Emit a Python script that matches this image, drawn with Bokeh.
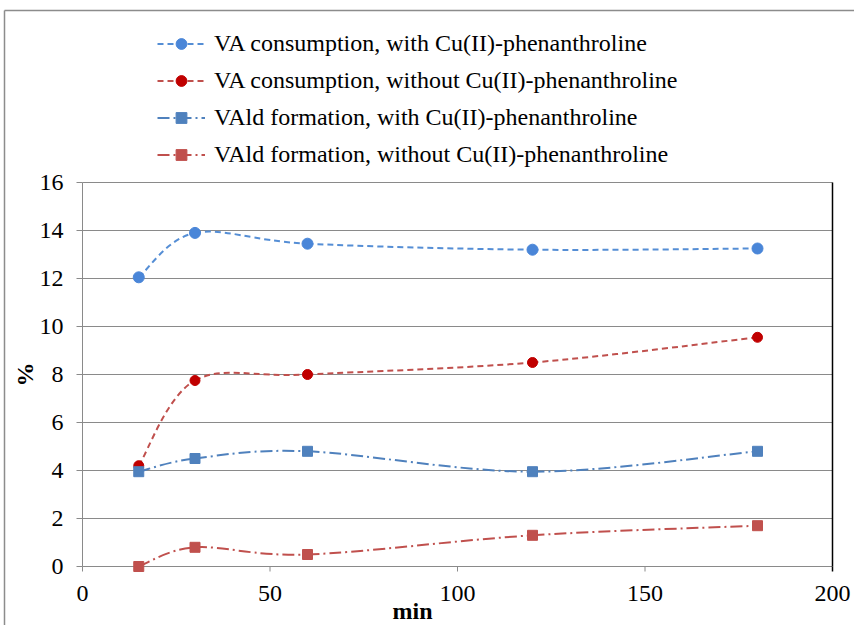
import numpy as np
from bokeh.plotting import figure
from bokeh.models import (Range1d, Legend, LegendItem, ColumnDataSource)
from bokeh.core.properties import value
from bokeh.embed import file_html
from bokeh.resources import INLINE

# ---- data ----
minutes = [15, 30, 60, 120, 180]
va_with = [12.05, 13.9, 13.45, 13.2, 13.25]
va_without = [4.2, 7.75, 8.0, 8.5, 9.55]
vald_with = [3.95, 4.5, 4.8, 3.95, 4.8]
vald_without = [0.0, 0.8, 0.5, 1.3, 1.7]

series_labels = [
    "VA consumption, with Cu(II)-phenanthroline",
    "VA consumption, without Cu(II)-phenanthroline",
    "VAld formation, with Cu(II)-phenanthroline",
    "VAld formation, without Cu(II)-phenanthroline",
]
x_ticks = [0, 50, 100, 150, 200]
y_ticks = [0, 2, 4, 6, 8, 10, 12, 14, 16]
x_label = "min"
y_label = "%"

FONT = "Liberation Serif"

# ---- layout (pixels) ----
W, H = 854, 625          # canvas size
OFF = 0                  # page offset of the canvas
PL, PR, PT, PB = 82, 832, 182, 566   # plot area in page pixels
xs = (PR - PL) / (x_ticks[-1] - x_ticks[0])
ys = (PB - PT) / (y_ticks[-1] - y_ticks[0])
x_start = x_ticks[0] - (PL - OFF) / xs
x_end = x_ticks[-1] + (W - (PR - OFF)) / xs
y_start = y_ticks[0] - (H - (PB - OFF)) / ys
y_end = y_ticks[-1] + (PT - OFF) / ys


def px_to_x(px):
    return x_start + (px - OFF) / xs


def py_to_y(py):
    return y_end - (py - OFF) / ys


def smooth_source(xv, yv):
    """Excel-like smoothed line: cubic Bezier segments (Catmull-Rom, 1/6)."""
    x = np.asarray(xv, float)
    y = np.asarray(yv, float)
    n = len(x)
    px = np.concatenate([[x[0]], x, [x[-1]]])
    py = np.concatenate([[y[0]], y, [y[-1]]])
    x0, y0, x1, y1 = x[:-1], y[:-1], x[1:], y[1:]
    cx0 = x0 + (px[2:n + 1] - px[0:n - 1]) / 6.0
    cy0 = y0 + (py[2:n + 1] - py[0:n - 1]) / 6.0
    cx1 = x1 - (px[3:n + 2] - px[1:n]) / 6.0
    cy1 = y1 - (py[3:n + 2] - py[1:n]) / 6.0
    return ColumnDataSource(dict(x0=x0, y0=y0, x1=x1, y1=y1,
                                 cx0=cx0, cy0=cy0, cx1=cx1, cy1=cy1))


p = figure(width=W, height=H, output_backend="svg", toolbar_location=None,
           x_range=Range1d(x_start, x_end), y_range=Range1d(y_start, y_end),
           x_axis_location=None, y_axis_location=None,
           min_border_left=0, min_border_right=0, min_border_top=0,
           min_border_bottom=0)
p.background_fill_color = "white"
p.border_fill_color = "white"
p.outline_line_color = None
p.grid.grid_line_color = None

GRID = "#8a8a8a"
x0v, x1v = x_ticks[0], x_ticks[-1]
y0v, y1v = y_ticks[0], y_ticks[-1]

# outer chart border (top and left)
p.segment(x0=[px_to_x(4), px_to_x(4)], y0=[py_to_y(10), py_to_y(10)],
          x1=[x_end, px_to_x(4)], y1=[py_to_y(10), y_start],
          line_color="#8c8c8c", line_width=1.5)

# horizontal gridlines
p.segment(x0=[x0v] * len(y_ticks), y0=y_ticks, x1=[x1v] * len(y_ticks),
          y1=y_ticks, line_color=GRID, line_width=1)
# y axis line + ticks
p.segment(x0=[x0v], y0=[y0v], x1=[x0v], y1=[y1v], line_color=GRID, line_width=1)
p.ray(x=[x0v] * len(y_ticks), y=y_ticks, length=6, length_units="screen",
      angle=np.pi, line_color=GRID, line_width=1)
# x axis ticks
p.ray(x=x_ticks[:-1], y=[y0v] * (len(x_ticks) - 1), length=5, length_units="screen",
      angle=-np.pi / 2, line_color=GRID, line_width=1)
# right border of the plot area (black, extends a little below like a tick)
p.segment(x0=[x1v], y0=[y0v], x1=[x1v], y1=[y1v], line_color="#000000",
          line_width=1.5)
p.ray(x=[x1v], y=[y0v], length=5, length_units="screen", angle=-np.pi / 2,
      line_color="#000000", line_width=1.5)

# tick labels
p.text(x=[x0v] * len(y_ticks), y=y_ticks, text=[str(t) for t in y_ticks],
       x_offset=-19, text_align="right", text_baseline="middle",
       text_font=value(FONT), text_font_size="24px", text_color="#000000")
p.text(x=x_ticks, y=[y0v] * len(x_ticks), text=[str(t) for t in x_ticks],
       y_offset=19, text_align="center", text_baseline="top",
       text_font=value(FONT), text_font_size="24px", text_color="#000000")

# axis titles
p.text(x=[x0v], y=[(y0v + y1v) / 2], text=[y_label], x_offset=-58,
       angle=np.pi / 2, text_align="center", text_baseline="middle",
       text_font=value(FONT), text_font_size="24px", text_font_style="bold",
       text_color="#000000")
p.text(x=[(x0v + x1v) / 2], y=[y0v], text=[x_label], x_offset=-45, y_offset=44,
       text_align="center", text_baseline="middle",
       text_font=value(FONT), text_font_size="24px", text_font_style="bold",
       text_color="#000000")

styles = [
    dict(y=va_with, line="#558ED5", fill="#4A86D8", marker="circle", dash="6 4",
         size=11, lsize=7),
    dict(y=va_without, line="#C0504D", fill="#C00000", marker="circle", dash="6 4",
         size=10, lsize=7),
    dict(y=vald_with, line="#4F81BD", fill="#4F81BD", marker="square",
         dash="12 4 2 4", size=10, lsize=8),
    dict(y=vald_without, line="#C0504D", fill="#C0504D", marker="square",
         dash="12 4 2 4", size=10, lsize=8),
]

items = []
for st, lab in zip(styles, series_labels):
    src = smooth_source(minutes, st["y"])
    p.bezier(x0="x0", y0="y0", x1="x1", y1="y1", cx0="cx0", cy0="cy0",
             cx1="cx1", cy1="cy1", source=src, line_color=st["line"],
             line_width=2, line_dash=st["dash"])
    p.scatter(minutes, st["y"], marker=st["marker"], size=st["size"],
              fill_color=st["fill"], line_color=st["fill"], line_width=1)
    # legend proxies (one invisible NaN point so the legend glyph is drawn)
    lr = p.line([np.nan], [np.nan], line_color=st["line"], line_width=2,
                line_dash=st["dash"])
    sr = p.scatter([np.nan], [np.nan], marker=st["marker"], size=st["lsize"],
                   fill_color=st["fill"], line_color=st["fill"])
    items.append(LegendItem(label=lab, renderers=[lr, sr]))

legend = Legend(items=items, location=(157 - OFF, H - (168 - OFF)),
                orientation="vertical",
                label_text_font=FONT, label_text_font_size="24px",
                label_text_color="#000000", glyph_width=48, glyph_height=27,
                label_height=27, label_standoff=9, spacing=10, padding=0,
                margin=0, border_line_color=None, background_fill_alpha=0)
p.add_layout(legend, "center")

open("out.html", "w").write(file_html(p, INLINE))
